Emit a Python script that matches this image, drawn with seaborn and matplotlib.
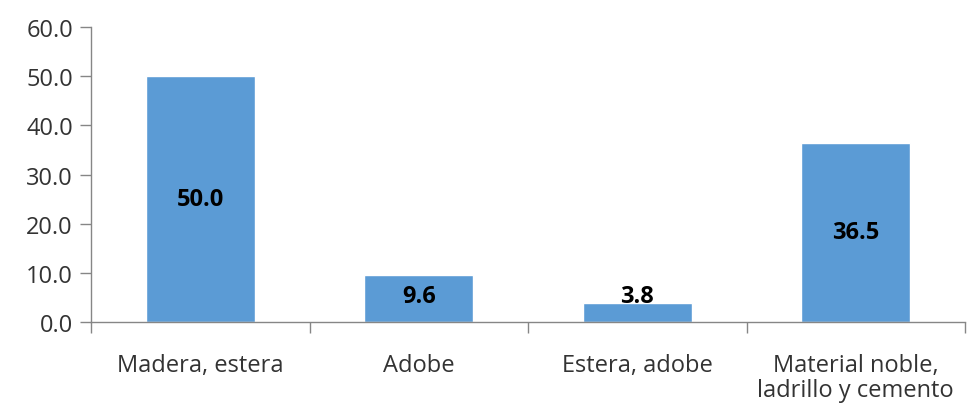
import matplotlib
matplotlib.use("Agg")
import matplotlib.pyplot as plt
import seaborn as sns
import pandas as pd
from matplotlib.ticker import FixedLocator, FormatStrFormatter

categorias = ["Madera, estera", "Adobe", "Estera, adobe",
              "Material noble,\nladrillo y cemento"]
porcentajes = [50.0, 9.6, 3.8, 36.5]

df = pd.DataFrame({"categoria": categorias, "valor": porcentajes})

sns.set_theme(style="white")
plt.rcParams["font.family"] = ["Open Sans", "DejaVu Sans"]

fig = plt.figure(figsize=(9.67, 4.10), dpi=100)
ax = fig.add_axes([0.0941, 0.2122, 0.9039, 0.7195])

sns.barplot(data=df, x="categoria", y="valor", order=categorias,
            color="#5B9BD5", saturation=1, width=0.5, ax=ax)

axis_gray = "#868686"
text_col = "#333333"

ax.set_ylim(0, 60)
ax.set_xlim(-0.5, len(categorias) - 0.5)
ax.set_yticks(range(0, 61, 10))
ax.yaxis.set_major_formatter(FormatStrFormatter("%.1f"))
ax.set_xlabel("")
ax.set_ylabel("")

for s in ["top", "right"]:
    ax.spines[s].set_visible(False)
for s in ["left", "bottom"]:
    ax.spines[s].set_color(axis_gray)
    ax.spines[s].set_linewidth(1.0)

ax.tick_params(axis="y", direction="out", length=8, width=1.0,
               color=axis_gray, labelsize=17, labelcolor=text_col, pad=5, left=True)
ax.tick_params(axis="x", which="major", length=0, labelsize=17,
               labelcolor=text_col, pad=22)
for lbl in ax.get_xticklabels():
    lbl.set_linespacing(1.1)
ax.xaxis.set_minor_locator(FixedLocator([i - 0.5 for i in range(len(categorias) + 1)]))
ax.tick_params(axis="x", which="minor", direction="out", length=8, width=1.0,
               color=axis_gray, bottom=True)

for i, v in enumerate(porcentajes):
    ax.text(i, max(v / 2, 5.3), f"{v:.1f}", ha="center", va="center",
            fontsize=17, fontweight="bold", color="black")

fig.savefig("out.png", dpi=100)
